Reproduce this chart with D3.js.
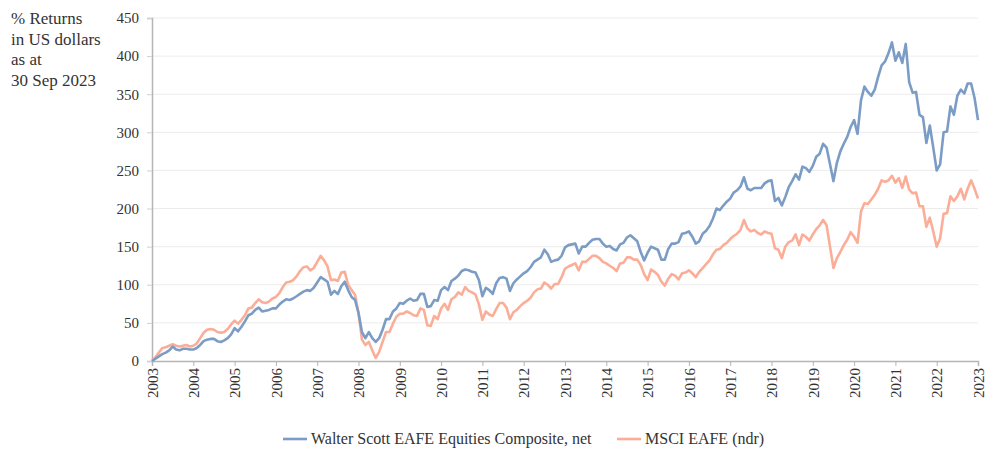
<!DOCTYPE html>
<html>
<head>
<meta charset="utf-8">
<script src="https://cdn.jsdelivr.net/npm/d3@7"></script>
<style>
  html, body { margin: 0; padding: 0; background: #fff; }
  svg { display: block; }
  svg text { font-family: "Liberation Serif", "Times New Roman", Tinos, "DejaVu Serif", "Noto Serif", "Noto Serif CJK SC", "Noto Serif CJK JP", serif !important; fill: #333; }
</style>
</head>
<body>
<svg id="chart" width="993" height="451"></svg>
<script>
// ---- DATA (monthly, cumulative % returns in US dollars) ----
const startYear = 2003;
const yearTicks = [2003,2004,2005,2006,2007,2008,2009,2010,2011,2012,2013,2014,2015,2016,2017,2018,2019,2020,2021,2022,2023];
const yTicks = [0,50,100,150,200,250,300,350,400,450];
const seriesNames = ["Walter Scott EAFE Equities Composite, net", "MSCI EAFE (ndr)"];
const titleLines = ["% Returns", "in US dollars", "as at", "30 Sep 2023"];

const walterScott = [
  0,3,6,9,11,14,19,15,14,16,16,15,
  15,17,21,26,28,29,29,26,25,27,30,35,
  43,39,45,52,60,62,67,70,65,66,67,69,
  69,74,78,81,80,82,85,88,91,93,92,96,
  103,110,107,104,87,92,88,98,104,93,84,80,
  63,38,30,38,30,25,30,41,55,55,65,69,
  76,75,79,82,79,80,88,88,71,72,80,79,
  93,97,93,105,108,112,118,120,119,117,116,106,
  85,96,93,88,102,109,110,108,92,102,107,111,
  115,118,123,130,133,136,146,140,130,132,133,138,
  149,152,153,154,141,150,150,155,159,160,160,154,
  150,151,147,145,153,155,162,165,161,157,143,132,
  142,150,148,146,133,133,147,154,154,156,167,168,
  170,163,154,157,167,171,177,187,200,198,204,209,
  213,221,224,229,241,226,224,227,227,227,233,236,
  237,210,214,204,215,228,236,245,238,255,253,248,
  256,268,272,285,280,258,236,260,275,285,294,307,
  316,298,342,360,353,348,356,373,388,393,404,418,
  394,405,391,416,366,352,353,323,320,286,309,280,
  250,258,300,301,334,323,348,356,351,364,364,345,
  316
];
const msciEafe = [
  0,5,11,17,18,20,22,20,19,20,21,19,
  20,23,30,37,41,42,41,38,37,38,42,48,
  53,49,54,60,69,70,76,81,77,76,78,82,
  84,89,97,103,104,106,111,118,123,124,119,122,
  130,138,132,124,106,107,105,116,117,100,93,87,
  63,28,21,25,14,4,12,25,38,38,49,58,
  62,62,65,63,60,59,69,67,47,46,59,55,
  69,75,67,81,84,90,87,97,92,90,87,74,
  54,65,61,59,68,76,76,70,55,64,67,72,
  76,79,83,90,94,95,103,100,95,101,101,110,
  121,124,126,128,119,130,130,134,138,138,135,130,
  128,125,122,118,128,129,136,136,133,133,126,114,
  106,120,117,113,104,99,108,114,112,107,115,116,
  119,115,110,117,122,127,132,140,146,147,152,155,
  160,164,167,172,185,174,170,172,168,166,170,168,
  167,148,146,135,150,156,158,166,152,166,163,158,
  166,173,178,185,178,150,122,135,143,152,159,169,
  163,155,196,207,206,212,218,226,237,235,237,243,
  234,240,227,242,225,220,221,203,203,176,188,170,
  150,161,193,194,216,210,216,226,212,226,237,226,
  213
];
const colors = ["#7b9cc5", "#fbad97"];

// ---- LAYOUT ----
const svg = d3.select("#chart");
const plotLeft = 152, plotRight = 978, plotTop = 18, plotBottom = 361;

const x = d3.scaleLinear().domain([startYear, 2023]).range([plotLeft, plotRight]);
const y = d3.scaleLinear().domain([0, 450]).range([plotBottom, plotTop]);

// gridlines
svg.append("g")
  .selectAll("line")
  .data(yTicks.filter(d => d > 0))
  .join("line")
  .attr("x1", plotLeft).attr("x2", plotRight)
  .attr("y1", d => y(d)).attr("y2", d => y(d))
  .attr("stroke", "#ececec").attr("stroke-width", 1);

// y axis
const yAxis = svg.append("g")
  .attr("transform", `translate(${plotLeft},0)`)
  .call(d3.axisLeft(y).tickValues(yTicks).tickSize(5).tickPadding(8).tickFormat(d => d));
yAxis.attr("font-family", null);
yAxis.select(".domain").attr("stroke", "#b5b5b5").attr("stroke-width", 1.5);
yAxis.selectAll(".tick line").attr("stroke", "#d0d0d0");
yAxis.selectAll(".tick text").attr("font-size", 15).attr("fill", "#333");

// x axis
const xAxis = svg.append("g")
  .attr("transform", `translate(0,${plotBottom})`)
  .call(d3.axisBottom(x).tickValues(yearTicks).tickSize(5).tickFormat(d => String(d)));
xAxis.attr("font-family", null);
xAxis.select(".domain").attr("stroke", "#b5b5b5").attr("stroke-width", 1.5);
xAxis.selectAll(".tick line").attr("stroke", "#b5b5b5");
xAxis.selectAll(".tick text")
  .attr("font-size", 15).attr("fill", "#333")
  .attr("transform", "rotate(-90)")
  .attr("text-anchor", "end")
  .attr("x", -7).attr("y", 0).attr("dy", "0.35em");

// lines
const line = d3.line()
  .x((d, i) => x(startYear + i / 12))
  .y(d => y(d));

[msciEafe, walterScott].forEach((s, k) => {
  svg.append("path")
    .datum(s)
    .attr("fill", "none")
    .attr("stroke", k === 0 ? colors[1] : colors[0])
    .attr("stroke-width", 2.6)
    .attr("stroke-linejoin", "round")
    .attr("d", line);
});

// title
const title = svg.append("text").attr("x", 11).attr("y", 24).attr("font-size", 17);
titleLines.forEach((t, i) => {
  title.append("tspan").attr("x", 11).attr("dy", i === 0 ? 0 : 20.5).text(t);
});

// legend
const legendItems = [
  { name: seriesNames[0], color: colors[0], x: 283 },
  { name: seriesNames[1], color: colors[1], x: 617 }
];
const lg = svg.append("g");
legendItems.forEach(it => {
  lg.append("line")
    .attr("x1", it.x).attr("x2", it.x + 24)
    .attr("y1", 439).attr("y2", 439)
    .attr("stroke", it.color).attr("stroke-width", 2.6);
  lg.append("text")
    .attr("x", it.x + 28).attr("y", 444)
    .attr("font-size", 16)
    .text(it.name);
});
</script>
</body>
</html>
